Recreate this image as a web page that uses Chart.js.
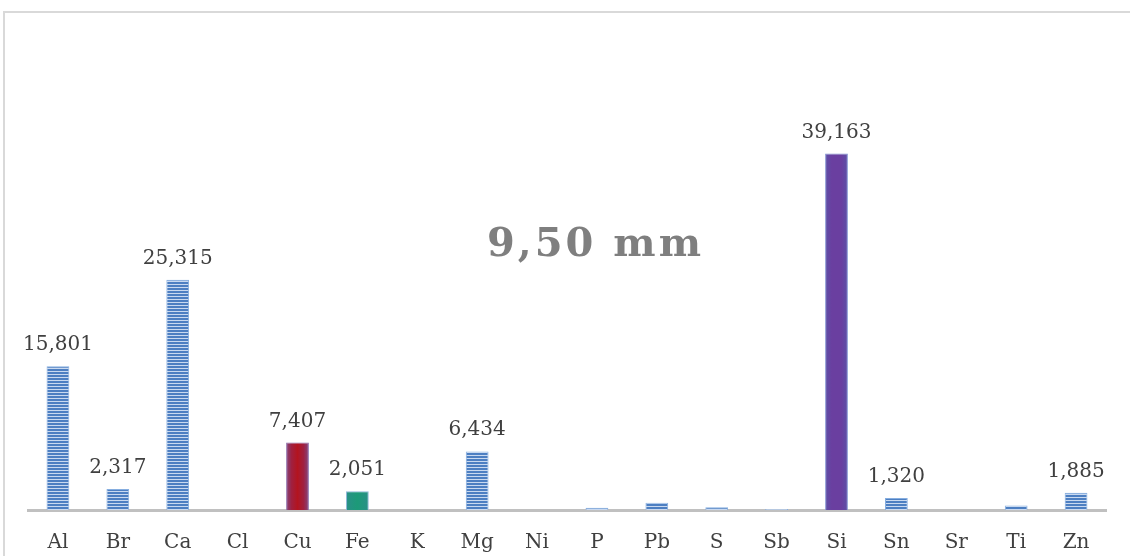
<!DOCTYPE html>
<html>
<head>
<meta charset="utf-8">
<script src="https://cdn.jsdelivr.net/npm/chart.js@4/dist/chart.umd.min.js"></script>
<style>
  html, body { margin: 0; padding: 0; background: #ffffff; }
  #wrap { width: 1130px; height: 556px; position: relative; }
</style>
</head>
<body>
<div id="wrap"><canvas id="c" width="1130" height="556"></canvas></div>
<script>
// Element composition (mass %), one bar per element
const elements = ['Al','Br','Ca','Cl','Cu','Fe','K','Mg','Ni','P','Pb','S','Sb','Si','Sn','Sr','Ti','Zn'];
const percent  = [15.801, 2.317, 25.315, 0, 7.407, 2.051, 0, 6.434, 0, 0.25, 0.8, 0.3, 0.1, 39.163, 1.320, 0, 0.5, 1.885];
const labelMin = 1;            // only values from this size get a number above the bar
const sampleTitle = '9,50 mm';

// fill style per element
const fillKind = ['stripe','stripe','stripe','stripe','red','teal','stripe','stripe','stripe','stripe','stripe','stripe','stripe','purple','stripe','stripe','stripe','stripe'];

function stripePattern() {
  const c = document.createElement('canvas');
  c.width = 4; c.height = 3;
  const g = c.getContext('2d');
  g.fillStyle = '#4d7fc2'; g.fillRect(0, 0, 4, 3);
  g.fillStyle = '#c9d9f0'; g.fillRect(0, 2, 4, 1);
  return g.createPattern(c, 'repeat');
}
let stripes = null;

function barFill(ctx) {
  const chart = ctx.chart;
  const kind = fillKind[ctx.dataIndex];
  if (kind === 'stripe') {
    if (!stripes) stripes = stripePattern();
    return stripes;
  }
  const xs = chart.scales.x;
  if (!xs || !chart.chartArea) return '#888';
  const cx = xs.getPixelForValue(ctx.dataIndex);
  const half = 12;
  const g = chart.ctx.createLinearGradient(cx - half, 0, cx + half, 0);
  if (kind === 'red') {
    g.addColorStop(0, '#7d4a86'); g.addColorStop(0.25, '#a02040');
    g.addColorStop(0.5, '#b3141f'); g.addColorStop(0.75, '#a02040'); g.addColorStop(1, '#7d4a86');
  } else if (kind === 'teal') {
    g.addColorStop(0, '#2a8f88'); g.addColorStop(0.5, '#1c9a78'); g.addColorStop(1, '#2a8f88');
  } else {
    g.addColorStop(0, '#5a52a8'); g.addColorStop(0.3, '#6a3fa0');
    g.addColorStop(0.7, '#6a3fa0'); g.addColorStop(1, '#5a52a8');
  }
  return g;
}

function barBorder(ctx) {
  const kind = fillKind[ctx.dataIndex];
  if (kind === 'red') return '#8a6aa8';
  if (kind === 'teal') return '#8fb8d8';
  if (kind === 'purple') return '#7f8fd0';
  return '#86aee0';
}

// frame around the chart
const framePlugin = {
  id: 'frame',
  beforeDraw(chart) {
    const c = chart.ctx;
    c.save();
    c.strokeStyle = '#d9d9d9';
    c.lineWidth = 2;
    c.strokeRect(4, 12, 1200, 600);
    c.restore();
  }
};

// value labels above bars and the sample title
const labelPlugin = {
  id: 'valueLabels',
  afterDatasetsDraw(chart) {
    const c = chart.ctx;
    const meta = chart.getDatasetMeta(0);
    c.save();
    c.fillStyle = '#404040';
    c.font = '20px "DejaVu Serif"';
    c.textAlign = 'center';
    c.textBaseline = 'alphabetic';
    meta.data.forEach((bar, i) => {
      const v = percent[i];
      if (v < labelMin) return;
      const txt = v.toFixed(3).replace('.', ',');
      c.fillText(txt, bar.x, bar.y - 16);
    });
    c.fillStyle = '#7f7f7f';
    c.font = 'bold 40px "DejaVu Serif"';
    c.textAlign = 'left';
    if ('letterSpacing' in c) c.letterSpacing = '3px';
    c.fillText(sampleTitle, 487, 256);
    c.restore();
  }
};

new Chart(document.getElementById('c'), {
  type: 'bar',
  data: {
    labels: elements,
    datasets: [{
      data: percent,
      backgroundColor: barFill,
      borderColor: barBorder,
      borderWidth: 1,
      borderSkipped: 'bottom',
      categoryPercentage: 1,
      barPercentage: 0.38
    }]
  },
  options: {
    responsive: false,
    animation: false,
    devicePixelRatio: 1,
    layout: { padding: { left: 28, right: 24, top: 55, bottom: 0 } },
    plugins: { legend: { display: false }, tooltip: { enabled: false } },
    scales: {
      y: { display: false, min: 0, max: 50 },
      x: {
        afterFit(scale) { scale.height = 46; },
        grid: { display: true, color: 'transparent', drawTicks: false },
        border: { display: true, color: '#c0c0c0', width: 3 },
        ticks: { color: '#404040', font: { family: 'DejaVu Serif', size: 20 }, padding: 21 }
      }
    }
  },
  plugins: [framePlugin, labelPlugin]
});
</script>
</body>
</html>
